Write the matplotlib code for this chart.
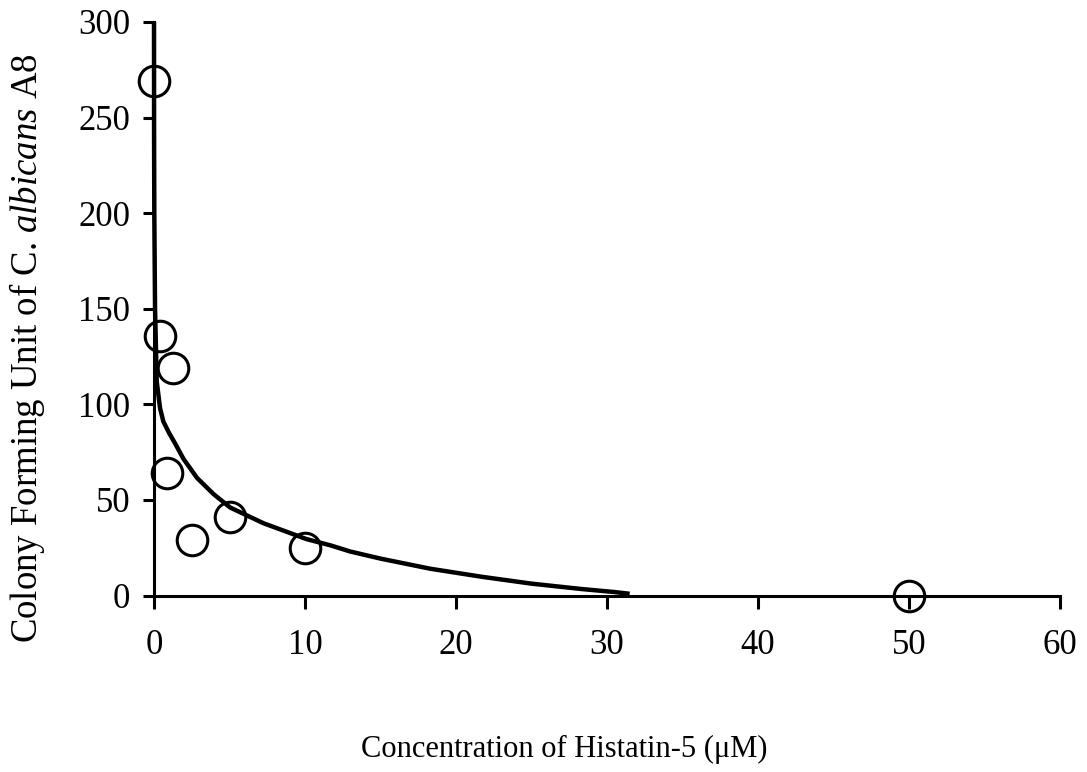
import matplotlib
matplotlib.use("Agg")
import matplotlib.pyplot as plt

plt.rcParams['font.family'] = ['Liberation Serif', 'DejaVu Serif']
plt.rcParams['mathtext.fontset'] = 'custom'
plt.rcParams['mathtext.rm'] = 'Liberation Serif'
plt.rcParams['mathtext.it'] = 'Liberation Serif:italic'

# Measured data (concentration in µM, CFU)
conc = [0, 0.4, 0.85, 1.25, 2.5, 5, 10, 50]
cfu = [269, 136, 64, 119, 29, 41, 25, 0]

# Fitted trend curve
curve_x = [0.0, 0.005, 0.02, 0.07, 0.18, 0.4, 0.62, 1.0, 1.4, 1.95, 2.85, 3.95, 5.05,
           7.25, 10.1, 11.7, 13.0, 15.0, 18.3, 21.7, 25.0, 28.3, 30.5, 31.5]
curve_y = [300, 240, 200, 150, 112, 98, 91, 85, 79.5, 71.5, 61.5, 53, 46,
           37.8, 29.5, 26.2, 23, 19.3, 14, 9.8, 6.2, 3.4, 1.8, 0.9]

xticks = [0, 10, 20, 30, 40, 50, 60]
yticks = [0, 50, 100, 150, 200, 250, 300]

fig = plt.figure(figsize=(10.87, 7.72), dpi=100)
ax = fig.add_axes([154/1087, 1-595.5/772, 906/1087, 573.5/772])

ax.plot(curve_x, curve_y, color='black', lw=3.2, solid_capstyle='butt',
        solid_joinstyle='round', zorder=3, clip_on=False)
ax.plot(conc, cfu, linestyle='none', marker='o', ms=22, mfc='none', mec='black', mew=2.2,
        zorder=4, clip_on=False)

ax.set_xlim(0, 60)
ax.set_ylim(0, 300)
ax.set_xticks(xticks)
ax.set_yticks(yticks)
ax.spines['top'].set_visible(False)
ax.spines['right'].set_visible(False)
for s in ['left', 'bottom']:
    ax.spines[s].set_linewidth(2.2)
ax.tick_params(axis='both', direction='out', width=2.2, labelsize=25, colors='black')
ax.tick_params(axis='y', length=8, pad=9)
ax.tick_params(axis='x', length=9, pad=15)

ax.set_xlabel('Concentration of Histatin-5 (\u03bcM)', fontsize=22)
ax.xaxis.label.set_va('center')
ax.xaxis.set_label_coords(0.453, -0.268)
ax.set_ylabel(r'Colony Forming Unit of C. $\mathit{albicans}$ A8', fontsize=26.5)
ax.yaxis.label.set_va('center')
ax.yaxis.set_label_coords(-0.1402, 0.432)

fig.savefig('out.png', dpi=100)
